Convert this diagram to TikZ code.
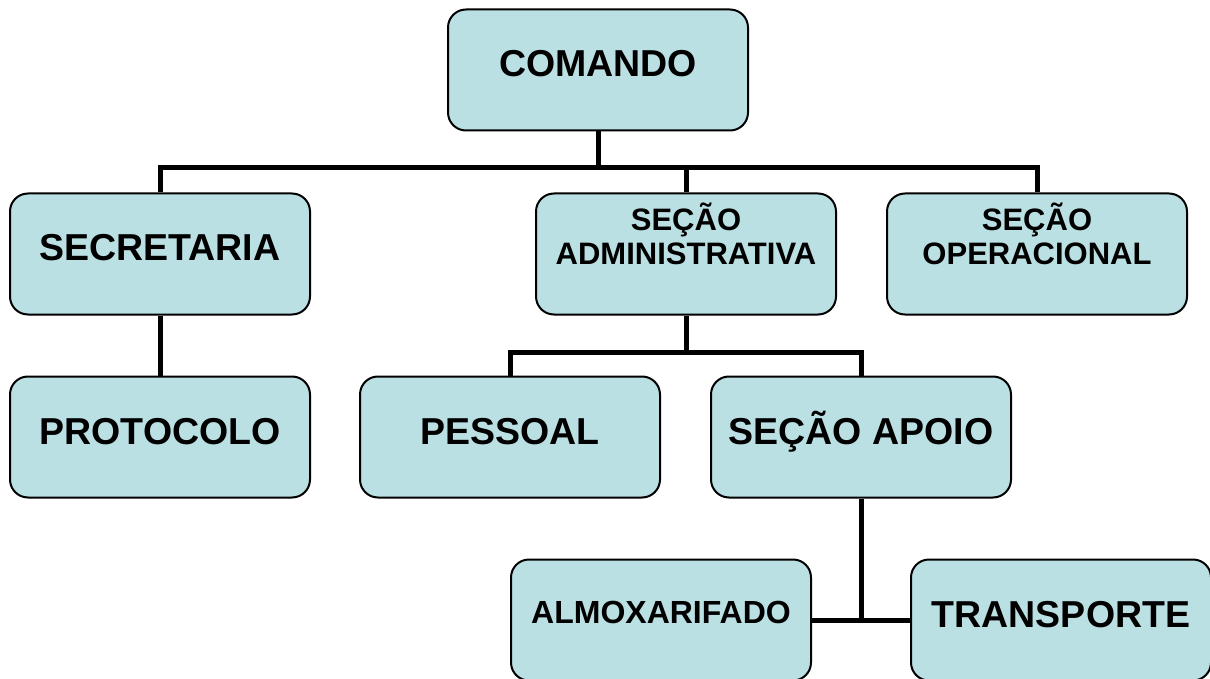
\documentclass[tikz,border=0pt]{standalone}
\usepackage{fontspec}
\setmainfont{Liberation Sans}
\definecolor{orgblue}{RGB}{187,224,227}
\tikzset{
  unit/.style={draw, line width=2pt, fill=orgblue, rounded corners=18pt, minimum width=300pt, minimum height=121pt, font=\bfseries\fontsize{37.5}{42}\selectfont, text height=27pt, text depth=13pt},
  twoline/.style={unit, font=\bfseries\fontsize{31}{35}\selectfont, align=center, text width=270pt, text height=22pt, text depth=70pt},
  link/.style={line width=5pt}
}
\begin{document}
\begin{tikzpicture}[x=1pt,y=-1pt]
      \useasboundingbox (0,0) rectangle (1210,679);
      \node[unit] (comando) at (598,70) {COMANDO};
      \node[unit] (secretaria) at (160,254) {SECRETARIA};
      \node[twoline] (administrativa) at (686,254) {SEÇÃO\\ADMINISTRATIVA};
      \node[twoline] (operacional) at (1037,254) {SEÇÃO\\OPERACIONAL};
      \node[unit] (protocolo) at (160,437) {PROTOCOLO};
      \node[unit] (pessoal) at (510,437) {PESSOAL};
      \node[unit] (apoio) at (861,437) {SEÇÃO APOIO};
      \node[unit, font=\bfseries\fontsize{32}{36}\selectfont, text height=23pt, text depth=16pt] (almoxarifado) at (661,620) {ALMOXARIFADO};
      \node[unit] (transporte) at (1061,620) {TRANSPORTE};
      \coordinate (bus1) at (598,168);
      \coordinate (bus2) at (686,352);
      \draw[link] (comando) -- (bus1);
      \draw[link] (secretaria.north) |- (bus1) -| (operacional.north);
      \draw[link] (administrativa) -- (administrativa |- bus1);
      \draw[link] (secretaria) -- (protocolo);
      \draw[link] (administrativa) -- (bus2);
      \draw[link] (pessoal.north) |- (bus2) -| (apoio.north);
      \draw[link] (almoxarifado) -- (transporte);
      \draw[link] (apoio) -- (apoio |- almoxarifado);
\end{tikzpicture}
\end{document}
